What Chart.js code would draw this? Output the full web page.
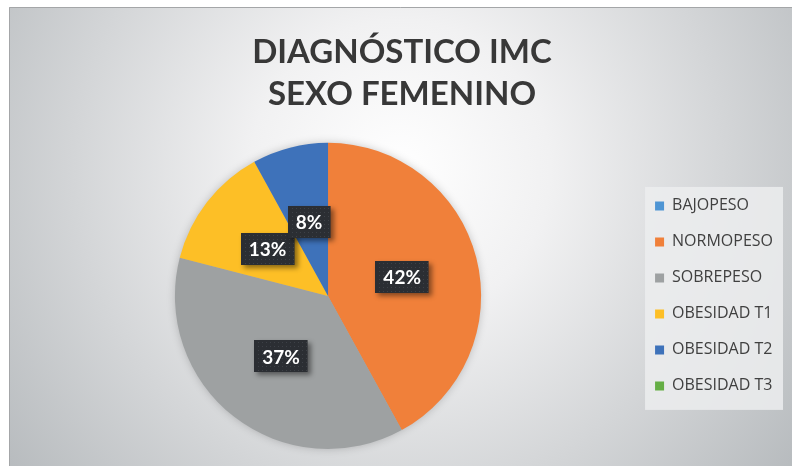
<!DOCTYPE html>
<html>
<head>
<meta charset="utf-8">
<script src="https://cdn.jsdelivr.net/npm/chart.js@4"></script>
<style>
  html, body { margin: 0; padding: 0; background: #fff; }
  #wrap { width: 792px; height: 466px; }
</style>
</head>
<body>
<div id="wrap"><canvas id="myChart" width="792" height="466"></canvas></div>
<script>
const categories = ["BAJOPESO", "NORMOPESO", "SOBREPESO", "OBESIDAD T1", "OBESIDAD T2", "OBESIDAD T3"];
const percentages = [0, 42, 37, 13, 8, 0];
const sliceColors = ["#4e95d4", "#f0803a", "#9ea1a2", "#fdbf26", "#3e72ba", "#65ae45"];
const titleLines = ["DIAGNÓSTICO IMC", "SEXO FEMENINO"];

// gray radial backdrop of the chart box
const backdrop = {
  id: "backdrop",
  beforeDraw(chart) {
    const ctx = chart.ctx;
    ctx.save();
    ctx.fillStyle = "#ffffff";
    ctx.fillRect(0, 0, chart.width, chart.height);
    const g = ctx.createRadialGradient(400, 170, 0, 400, 170, 500);
    g.addColorStop(0, "#ffffff");
    g.addColorStop(0.3, "#f1f1f2");
    g.addColorStop(1, "#b6babd");
    ctx.fillStyle = g;
    ctx.fillRect(9, 7, chart.width - 9, chart.height - 7);
    ctx.strokeStyle = "#a4a6a8";
    ctx.lineWidth = 1;
    ctx.beginPath();
    ctx.moveTo(9.5, chart.height);
    ctx.lineTo(9.5, 7.5);
    ctx.lineTo(chart.width, 7.5);
    ctx.stroke();

    // legend panel
    const lg = chart.legend;
    if (lg && lg.legendHitBoxes && lg.legendHitBoxes.length) {
      const hb = lg.legendHitBoxes;
      const first = hb[0], last = hb[hb.length - 1];
      ctx.fillStyle = "rgba(236,237,238,0.85)";
      ctx.fillRect(first.left - 10, first.top - 11, chart.width - 9 - (first.left - 10), last.top + last.height + 16 - (first.top - 11));
    }
    ctx.restore();
  },
  beforeDatasetsDraw(chart) {
    const ctx = chart.ctx;
    const arc = chart.getDatasetMeta(0).data.find(a => a.outerRadius);
    if (!arc) return;
    ctx.save();
    ctx.shadowColor = "rgba(0,0,0,0.25)";
    ctx.shadowBlur = 10;
    ctx.fillStyle = "#aaa";
    ctx.beginPath();
    ctx.arc(arc.x, arc.y, arc.outerRadius - 1, 0, Math.PI * 2);
    ctx.fill();
    ctx.restore();
  }
};

// dark boxed percentage labels
const boxLabels = {
  id: "boxLabels",
  afterDatasetsDraw(chart) {
    const ctx = chart.ctx;
    const meta = chart.getDatasetMeta(0);
    ctx.save();
    ctx.font = "bold 19px Lato, 'Open Sans', sans-serif";
    ctx.textAlign = "center";
    ctx.textBaseline = "middle";
    meta.data.forEach((arc, i) => {
      const v = percentages[i];
      if (!v) return;
      const p = arc.tooltipPosition();
      const txt = v + "%";
      const w = ctx.measureText(txt).width + 16;
      const h = 32;
      const x = Math.round(p.x - w / 2), y = Math.round(p.y - h / 2);
      ctx.save();
      ctx.shadowColor = "rgba(0,0,0,0.45)";
      ctx.shadowBlur = 5;
      ctx.shadowOffsetX = 3;
      ctx.shadowOffsetY = 3;
      ctx.fillStyle = "#2b2e33";
      ctx.fillRect(x, y, w, h);
      ctx.restore();
      ctx.fillStyle = "#3d4147";
      for (let yy = y + 2; yy < y + h - 1; yy += 4) {
        for (let xx = x + 2 + ((yy - y) % 8 ? 2 : 0); xx < x + w - 1; xx += 4) {
          ctx.fillRect(xx, yy, 1, 1);
        }
      }
      ctx.fillStyle = "#ffffff";
      ctx.fillText(txt, p.x, p.y + 1);
    });
    ctx.restore();
  }
};

const chartContainer = document.querySelector("#myChart");

const data = {
  labels: categories,
  datasets: [
    {
      data: percentages,
      backgroundColor: sliceColors,
      borderWidth: 0,
    },
  ],
};

const config = {
  type: "pie",
  data: data,
  options: {
    responsive: false,
    animation: false,
    rotation: 0,
    layout: {
      padding: { left: 21, right: 9, top: 0, bottom: 17 },
    },
    plugins: {
      title: {
        display: true,
        text: titleLines,
        color: "#383838",
        font: { family: "Lato, sans-serif", size: 33, weight: "bold", lineHeight: 1.27 },
        padding: { top: 31, bottom: 28 },
      },
      legend: {
        position: "right",
        fullSize: false,
        labels: {
          boxWidth: 9,
          boxHeight: 9,
          padding: 20,
          color: "#404040",
          font: { family: "'Open Sans', sans-serif", size: 16 },
        },
      },
      tooltip: { enabled: false },
    },
  },
  plugins: [backdrop, boxLabels],
};

const myChart = new Chart(chartContainer, config);
</script>
</body>
</html>
